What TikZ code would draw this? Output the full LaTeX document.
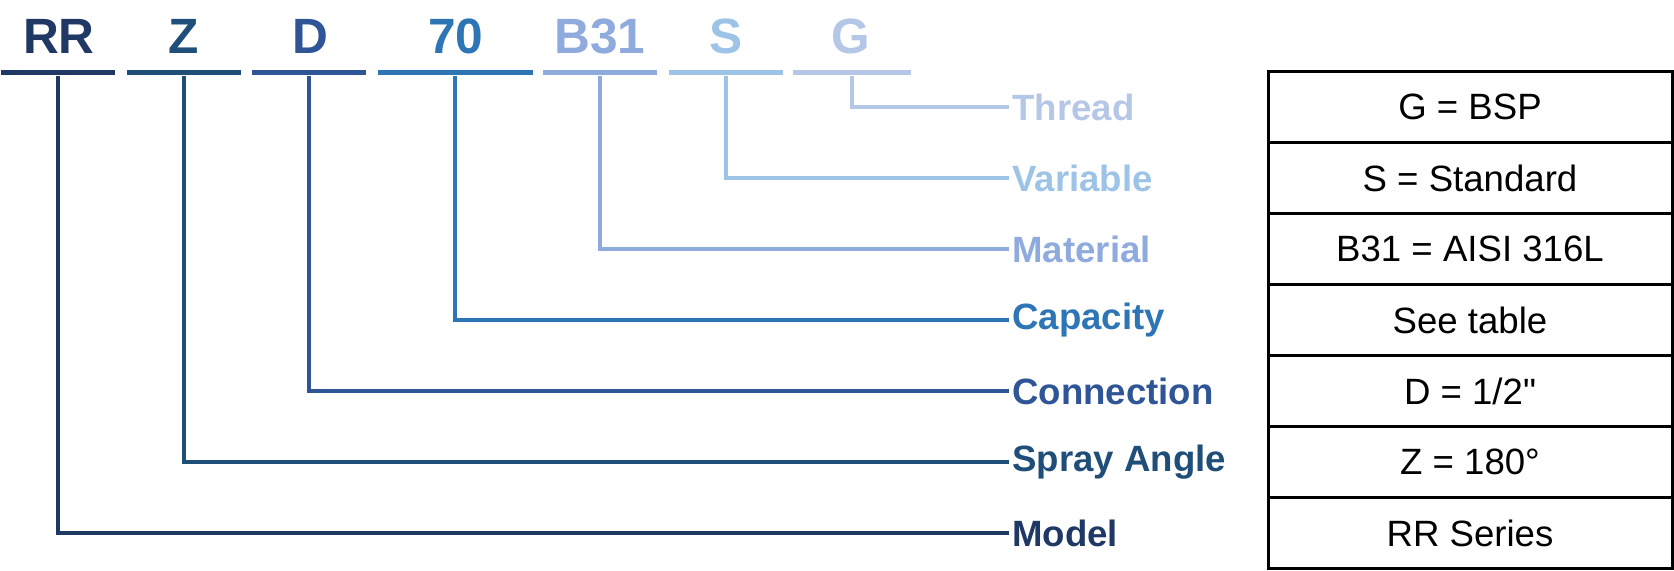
\documentclass[tikz,border=0pt]{standalone}
\usepackage{fontspec}
\setmainfont{Liberation Sans}[Ligatures=TeXOff]
\usepackage{xcolor}
\usepackage{tikz}
\usetikzlibrary{positioning}
\definecolor{cModel}{HTML}{203864}
\definecolor{cAngle}{HTML}{1F4E79}
\definecolor{cConn}{HTML}{2F5597}
\definecolor{cCap}{HTML}{2E75B6}
\definecolor{cMat}{HTML}{8FAADC}
\definecolor{cVar}{HTML}{9DC3E6}
\definecolor{cThread}{HTML}{B4C7E7}
\tikzstyle{codeNode} = [font=\fontsize{24.8}{28}\selectfont\bfseries, anchor=base, inner sep=0pt]
\tikzstyle{bar} = [rectangle, minimum height=2.75pt, minimum width=57pt, inner sep=0pt]
\tikzstyle{lblNode} = [font=\fontsize{18.3}{22}\selectfont\bfseries, anchor=west, inner sep=1.5pt]
\tikzstyle{cell} = [draw, line width=1.5pt, minimum width=202pt, minimum height=35.45pt, inner sep=0pt, font=\fontsize{18.3}{22}\selectfont]
\tikzstyle{link} = [line width=2.25pt, line join=miter]

\begin{document}
\begin{tikzpicture}[x=0.5pt,y=-0.5pt]
            \useasboundingbox (0,0) rectangle (1674,571);
            % code letters
            \node (codeRR) [codeNode, cModel] at (59,53.5) {RR};
            \node (codeZ) [codeNode, cAngle] at (184,53.5) {Z};
            \node (codeD) [codeNode, cConn] at (310,53.5) {D};
            \node (codeSev) [codeNode, cCap] at (456,53.5) {70};
            \node (codeB) [codeNode, cMat] at (600,53.5) {B31};
            \node (codeS) [codeNode, cVar] at (726,53.5) {S};
            \node (codeG) [codeNode, cThread] at (851,53.5) {G};
            % bars
            \node (barRR) [bar, fill=cModel] at (58,72.6) {};
            \node (barZ) [bar, fill=cAngle] at (184,72.6) {};
            \node (barD) [bar, fill=cConn] at (309,72.6) {};
            \node (barSev) [bar, fill=cCap, minimum width=77.5pt] at (455,72.6) {};
            \node (barB) [bar, fill=cMat] at (600,72.6) {};
            \node (barS) [bar, fill=cVar] at (726,72.6) {};
            \node (barG) [bar, fill=cThread, minimum width=59pt] at (852,72.6) {};
            % table
            \node (rowG) [cell] at (1470,107) {G = BSP};
            \node (rowS) [cell] at (1470,178) {S = Standard};
            \node (rowB) [cell] at (1470,249) {B31 = AISI 316L};
            \node (rowSev) [cell] at (1470,320) {See table};
            \node (rowD) [cell] at (1470,391) {D = 1/2"};
            \node (rowZ) [cell] at (1470,462) {Z = 180°};
            \node (rowRR) [cell] at (1470,533) {RR Series};
            % labels
            \node (lblThread) [lblNode, cThread] at (1009,107) {Thread};
            \node (lblVar) [lblNode, cVar] at (1009,178) {Variable};
            \node (lblMat) [lblNode, cMat] at (1009,249) {Material};
            \node (lblCap) [lblNode, cCap] at (1009,320) {Capacity};
            \node (lblConn) [lblNode, cConn] at (1009,391) {Connection};
            \node (lblAngle) [lblNode, cAngle] at (1009,462) {Spray Angle};
            \node (lblModel) [lblNode, cModel] at (1009,533) {Model};
            % connectors
            \draw[link, cThread] (barG) |- (lblThread.west);
            \draw[link, cVar] (barS) |- (lblVar.west);
            \draw[link, cMat] (barB) |- (lblMat.west);
            \draw[link, cCap] (barSev) |- (lblCap.west);
            \draw[link, cConn] (barD) |- (lblConn.west);
            \draw[link, cAngle] (barZ) |- (lblAngle.west);
            \draw[link, cModel] (barRR) |- (lblModel.west);
        \end{tikzpicture}
\end{document}
